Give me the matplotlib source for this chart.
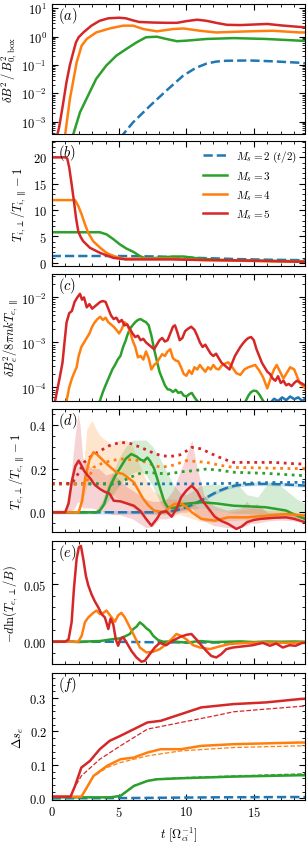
import numpy as np
import matplotlib
matplotlib.use("Agg")
import matplotlib.pyplot as plt
from matplotlib.ticker import AutoMinorLocator, MultipleLocator, LogLocator, NullFormatter

# ---------------- data ----------------
C_BLUE, C_GREEN, C_ORANGE, C_RED = "#1f77b4", "#2ca02c", "#ff7f0e", "#d62728"
labels = [r"$M_s = 2\ (t/2)$", r"$M_s = 3$", r"$M_s = 4$", r"$M_s = 5$"]

# (a) log10(dB^2 / B0^2)
a_t_red = [0.35, 0.55, 0.8, 1.1, 1.35, 1.6, 1.8, 2.0, 2.35, 2.95, 3.55, 4.2, 5.0, 5.5, 6.0, 6.5, 7.5, 8.5, 9.3, 10.0, 10.8, 11.5, 12.3, 13.0, 14.0, 15.0, 16.0, 17.0, 18.0, 18.8]
a_v_red = [-3.6, -3.2, -2.5, -1.6, -1.0, -0.55, -0.2, -0.02, 0.15, 0.39, 0.56, 0.65, 0.67, 0.65, 0.58, 0.52, 0.5, 0.49, 0.49, 0.55, 0.6, 0.56, 0.48, 0.42, 0.41, 0.43, 0.45, 0.4, 0.36, 0.33]
a_t_orange = [0.9, 1.0, 1.35, 1.85, 2.22, 2.6, 3.3, 4.3, 5.3, 6.05, 6.8, 7.8, 9.0, 9.8, 11.0, 12.2, 14.7, 16.4, 18.4, 18.8]
a_v_orange = [-3.6, -3.45, -2.2, -0.91, -0.32, -0.08, 0.15, 0.29, 0.39, 0.39, 0.27, 0.19, 0.27, 0.29, 0.21, 0.15, 0.19, 0.21, 0.15, 0.15]
a_t_green = [1.5, 1.6, 2.1, 2.7, 3.3, 4.05, 4.8, 5.55, 6.3, 7.0, 7.8, 8.5, 9.3, 10.0, 11.5, 13.5, 15.9, 18.4, 18.8]
a_v_green = [-3.6, -3.45, -2.67, -2.08, -1.49, -1.02, -0.67, -0.43, -0.2, -0.02, 0.0, -0.08, -0.16, -0.14, -0.08, -0.05, -0.08, -0.14, -0.15]
a_t_blue = [5.2, 5.3, 6.05, 7.3, 8.5, 9.75, 10.7, 11.5, 12.2, 12.95, 14.7, 16.4, 18.4, 18.8]
a_v_blue = [-3.6, -3.45, -3.02, -2.44, -1.91, -1.38, -1.1, -0.95, -0.88, -0.85, -0.84, -0.87, -0.92, -0.94]

# (b) T_perp/T_par - 1 (ions)
b_t_red = [0, 1.0, 1.15, 1.3, 1.48, 1.65, 1.8, 1.97, 2.15, 2.34, 2.84, 3.58, 4.57, 5.5, 7.0, 9.0, 11.0, 13.0, 15.0, 17.0, 18.8]
b_v_red = [20, 20, 19.8, 18.1, 14.9, 11.7, 8.6, 6.0, 4.9, 4.1, 2.85, 1.9, 0.95, 0.65, 0.65, 0.65, 0.55, 0.5, 0.4, 0.3, 0.2]
b_t_orange = [0, 1.73, 1.97, 2.22, 2.47, 2.71, 3.08, 3.58, 4.07, 4.57, 5.3, 7.0, 9.0, 11.5, 14.0, 16.5, 18.8]
b_v_orange = [11.9, 11.9, 10.8, 9.2, 7.3, 5.7, 4.1, 2.9, 1.9, 1.3, 0.8, 0.8, 0.8, 0.5, 0.4, 0.3, 0.2]
b_t_green = [0, 3.58, 4.07, 4.57, 5.06, 5.55, 6.05, 6.54, 7.0, 7.8, 9.0, 9.8, 11.0, 12.3, 14.5, 16.5, 18.8]
b_v_green = [5.8, 5.8, 5.4, 4.5, 3.5, 2.7, 2.1, 1.3, 0.8, 0.95, 1.2, 1.2, 0.8, 0.57, 0.45, 0.38, 0.32]
b_t_blue = [0, 5.0, 8.0, 10.0, 12.0, 14.0, 16.0, 18.8]
b_v_blue = [1.3, 1.3, 1.2, 1.0, 0.85, 0.7, 0.6, 0.5]

# (c) log10(dB_e^2 / 8 pi n k T_e,par)
c_t_red = [0.25, 0.45, 0.62, 0.8, 0.95, 1.1, 1.3, 1.5, 1.7, 1.9, 2.1, 2.25, 2.4, 2.6, 2.8, 3.0, 3.2, 3.4, 3.6, 3.8, 4.0, 4.2, 4.4, 4.6, 4.8, 5.0, 5.2, 5.4, 5.6, 5.8, 6.0, 6.2, 6.4, 6.6, 6.8, 7.0, 7.2, 7.4, 7.6, 7.8, 8.0, 8.2, 8.4, 8.6, 8.8, 9.0, 9.15, 9.3, 9.5, 9.7, 9.9, 10.1, 10.35, 10.6, 10.8, 11.0, 11.2, 11.4, 11.6, 11.8, 12.0, 12.2, 12.4, 12.6, 12.8, 13.0, 13.2, 13.4, 13.6, 13.8, 14.0, 14.2, 14.4, 14.6, 14.8, 15.0, 15.2, 15.4, 15.6, 15.8, 16.0, 16.2, 16.4, 16.6, 16.8, 17.0, 17.2, 17.4, 17.6, 17.8, 18.0, 18.2, 18.5, 18.8]
c_v_red = [-4.3, -4.0, -3.74, -3.45, -3.0, -2.56, -2.35, -2.3, -2.1, -2.0, -1.92, -2.05, -2.0, -2.22, -2.15, -2.25, -2.2, -2.15, -2.1, -2.08, -2.1, -2.25, -2.4, -2.48, -2.45, -2.55, -2.5, -2.62, -2.6, -2.7, -2.8, -2.88, -2.85, -2.95, -2.92, -3.0, -3.05, -3.1, -3.15, -3.05, -2.95, -2.9, -2.98, -2.95, -2.8, -2.65, -2.62, -2.75, -2.95, -2.9, -2.75, -2.7, -2.65, -2.72, -2.85, -3.0, -3.1, -3.05, -3.15, -3.25, -3.3, -3.25, -3.35, -3.45, -3.5, -3.55, -3.6, -3.45, -3.3, -3.2, -3.1, -3.02, -2.95, -2.9, -2.88, -2.95, -3.15, -3.3, -3.45, -3.55, -3.65, -3.7, -3.8, -3.85, -3.75, -3.9, -3.85, -3.95, -3.92, -3.97, -3.9, -3.85, -3.9, -3.95]
c_t_orange = [1.1, 1.3, 1.5, 1.7, 1.85, 2.0, 2.2, 2.4, 2.6, 2.8, 3.0, 3.2, 3.4, 3.6, 3.8, 4.0, 4.2, 4.4, 4.6, 4.8, 5.0, 5.2, 5.4, 5.6, 5.8, 6.0, 6.2, 6.4, 6.6, 6.8, 7.0, 7.2, 7.4, 7.6, 7.8, 8.0, 8.2, 8.4, 8.6, 8.8, 9.0, 9.2, 9.4, 9.6, 9.8, 10.0, 10.2, 10.4, 10.6, 10.8, 11.0, 11.2, 11.4, 11.6, 11.8, 12.0, 12.2, 12.4, 12.6, 12.8, 13.1, 13.4, 13.7, 14.0, 14.3, 14.6, 15.1, 15.4, 15.7, 16.0, 16.3, 16.5, 16.7, 17.0, 17.2, 17.5, 17.7, 18.0, 18.2, 18.4, 18.6, 18.8]
c_v_orange = [-4.3, -4.0, -3.8, -3.65, -3.55, -3.3, -3.1, -3.0, -2.9, -2.8, -2.65, -2.55, -2.48, -2.43, -2.5, -2.45, -2.55, -2.6, -2.65, -2.72, -2.8, -2.7, -2.55, -2.6, -2.75, -2.95, -3.1, -3.33, -3.3, -3.38, -3.2, -3.35, -3.6, -3.5, -3.45, -3.35, -3.26, -3.3, -3.2, -3.15, -3.35, -3.4, -3.42, -3.55, -3.7, -3.74, -3.62, -3.7, -3.55, -3.6, -3.5, -3.58, -3.65, -3.55, -3.6, -3.5, -3.58, -3.6, -3.52, -3.48, -3.44, -3.55, -3.68, -3.72, -3.6, -3.55, -3.5, -3.62, -3.78, -4.02, -3.75, -3.6, -3.5, -3.68, -3.8, -3.65, -3.55, -3.6, -3.75, -3.9, -3.95, -4.02]
c_t_green = [3.57, 3.8, 4.0, 4.3, 4.5, 4.7, 4.9, 5.1, 5.3, 5.5, 5.6, 5.8, 6.0, 6.2, 6.4, 6.6, 6.8, 7.0, 7.2, 7.4, 7.6, 7.8, 8.0, 8.2, 8.4, 8.6, 8.8, 9.0, 9.2, 9.4, 9.6, 9.8, 10.0, 10.2, 10.4, 10.6, 10.8, 11.5, 13.0, 14.2, 14.4, 14.6, 14.8, 15.0, 15.2, 15.4, 15.6, 15.8, 16.5, 18.8]
c_v_green = [-4.3, -4.1, -3.95, -3.74, -3.6, -3.5, -3.38, -3.3, -3.1, -2.95, -2.85, -2.7, -2.62, -2.55, -2.5, -2.48, -2.52, -2.55, -2.62, -2.85, -3.15, -3.4, -3.65, -3.8, -3.95, -4.04, -4.05, -4.1, -4.05, -4.12, -4.1, -4.18, -4.2, -4.15, -4.12, -4.22, -4.3, -4.5, -4.5, -4.45, -4.3, -4.18, -4.1, -4.07, -4.08, -4.15, -4.25, -4.35, -4.5, -4.5]
c_t_blue = [5.0, 16.0, 16.2, 16.5, 16.8, 17.1, 17.4, 17.7, 18.0, 18.3, 18.6, 18.8]
c_v_blue = [-4.6, -4.6, -4.35, -4.25, -4.3, -4.22, -4.28, -4.2, -4.26, -4.22, -4.3, -4.25]

# (d) T_e,perp/T_e,par - 1 : solid lines
d_t_red = [0, 1.0, 1.25, 1.5, 1.75, 2.0, 2.2, 2.4, 2.65, 2.9, 3.2, 3.6, 3.9, 4.3, 4.6, 5.1, 5.6, 6.1, 6.6, 7.0, 7.4, 7.8, 8.1, 8.5, 8.9, 9.3, 9.6, 10.0, 10.4, 10.8, 11.1, 11.6, 12.1, 12.6, 13.1, 13.7, 14.1, 14.5, 15.0, 15.5, 16.5, 17.4, 18.0, 18.8]
d_v_red = [0.0, 0.0, 0.04, 0.144, 0.21, 0.236, 0.215, 0.19, 0.17, 0.152, 0.125, 0.106, 0.095, 0.085, 0.053, 0.05, 0.04, 0.03, 0.005, -0.03, -0.061, -0.03, 0.0, 0.005, -0.02, 0.02, 0.068, 0.1, 0.122, 0.095, 0.06, 0.02, -0.02, -0.04, -0.053, -0.076, -0.065, -0.045, -0.035, -0.03, -0.025, -0.023, -0.03, -0.045]
d_t_orange = [0, 2.0, 2.25, 2.5, 2.8, 3.1, 3.35, 3.6, 4.1, 4.8, 5.3, 6.1, 6.8, 7.2, 7.6, 8.3, 8.7, 9.1, 9.6, 10.0, 10.4, 11.1, 12.1, 13.1, 14.5, 16.0, 17.4, 18.8]
d_v_orange = [0.0, 0.0, 0.05, 0.16, 0.24, 0.274, 0.265, 0.25, 0.22, 0.183, 0.175, 0.137, 0.061, 0.03, 0.008, 0.0, 0.02, 0.038, 0.04, 0.025, 0.0, -0.03, -0.038, -0.023, -0.023, -0.015, -0.008, -0.015]
d_t_green = [0, 3.3, 3.6, 3.9, 4.3, 4.7, 5.1, 5.5, 5.9, 6.3, 6.6, 6.85, 7.1, 7.3, 7.6, 7.85, 8.1, 8.35, 8.6, 9.1, 9.8, 11.1, 12.3, 13.5, 14.7, 15.9, 17.4, 18.0, 18.8]
d_v_green = [0.0, 0.0, 0.01, 0.038, 0.114, 0.165, 0.205, 0.245, 0.266, 0.255, 0.24, 0.235, 0.25, 0.235, 0.2, 0.15, 0.099, 0.05, 0.023, 0.02, 0.038, 0.046, 0.04, 0.03, 0.027, 0.023, 0.008, -0.01, -0.03]
d_t_blue = [0, 5.0, 8.0, 8.6, 9.3, 10.0, 10.8, 11.5, 12.3, 13.1, 13.7, 14.3, 15.0, 16.0, 17.0, 18.0, 18.8]
d_v_blue = [0.0, 0.0, 0.0, 0.003, 0.01, 0.023, 0.045, 0.068, 0.095, 0.114, 0.123, 0.127, 0.129, 0.13, 0.128, 0.125, 0.122]

# (d) dotted lines
dd_t_red = [0, 1.5, 2.0, 2.4, 3.0, 3.6, 4.3, 5.1, 5.8, 6.6, 7.4, 8.1, 8.8, 9.5, 10.0, 10.4, 11.1, 11.7, 12.3, 13.0, 13.5, 15.0, 16.5, 18.0, 18.8]
dd_v_red = [0.132, 0.132, 0.18, 0.228, 0.26, 0.281, 0.305, 0.32, 0.315, 0.297, 0.275, 0.259, 0.255, 0.262, 0.28, 0.297, 0.29, 0.272, 0.255, 0.238, 0.228, 0.228, 0.228, 0.222, 0.22]
dd_t_orange = [0, 2.5, 2.8, 3.1, 3.9, 5.1, 6.6, 7.4, 8.1, 9.0, 10.0, 11.5, 12.5, 13.5, 15.5, 17.5, 18.8]
dd_v_orange = [0.13, 0.13, 0.165, 0.205, 0.228, 0.244, 0.236, 0.22, 0.205, 0.215, 0.236, 0.228, 0.215, 0.205, 0.203, 0.2, 0.2]
dd_t_green = [0, 4.5, 5.0, 5.6, 6.2, 6.8, 7.6, 8.6, 9.6, 10.5, 11.5, 12.5, 13.5, 15.9, 17.5, 18.8]
dd_v_green = [0.13, 0.13, 0.138, 0.152, 0.17, 0.183, 0.18, 0.175, 0.185, 0.19, 0.198, 0.192, 0.183, 0.178, 0.172, 0.167]
dd_t_blue = [0, 8.0, 11.0, 14.0, 16.5, 18.8]
dd_v_blue = [0.13, 0.13, 0.13, 0.133, 0.136, 0.137]

# (d) shaded spread
sh_t_red = [0, 1.0, 1.4, 1.7, 1.95, 2.1, 2.3, 2.6, 3.0, 3.5, 4.0, 4.5, 5.0, 5.5, 6.0, 6.5, 7.0, 7.5, 8.0, 8.5, 9.0, 9.5, 10.0, 10.4, 10.8, 11.3, 12.0, 13.0, 14.0, 14.5, 14.8, 15.2, 16.0, 17.0, 18.0, 18.8]
sh_hi_red = [0.01, 0.01, 0.15, 0.33, 0.45, 0.40, 0.25, 0.22, 0.20, 0.20, 0.17, 0.18, 0.15, 0.12, 0.10, 0.08, 0.06, 0.05, 0.05, 0.06, 0.10, 0.18, 0.26, 0.33, 0.20, 0.08, 0.03, 0.01, 0.02, 0.05, 0.02, 0.04, 0.0, 0.0, -0.01, -0.02]
sh_lo_red = [-0.005, -0.005, 0.0, 0.02, 0.05, 0.04, 0.02, 0.02, 0.02, 0.01, 0.0, -0.01, -0.01, -0.02, -0.03, -0.05, -0.07, -0.065, -0.03, -0.03, -0.02, 0.0, 0.0, 0.02, -0.02, -0.04, -0.06, -0.07, -0.07, -0.06, -0.05, -0.05, -0.04, -0.035, -0.04, -0.05]
sh_t_orange = [0, 2.0, 2.3, 2.6, 3.0, 3.3, 3.6, 4.0, 4.5, 5.0, 5.5, 6.0, 6.5, 7.0, 7.5, 8.0, 8.5, 9.0, 10.0, 11.0, 12.0, 13.0, 14.0, 15.0, 16.0, 17.0, 18.0, 18.8]
sh_hi_orange = [0.01, 0.01, 0.15, 0.38, 0.42, 0.38, 0.35, 0.33, 0.31, 0.33, 0.33, 0.30, 0.22, 0.15, 0.10, 0.08, 0.06, 0.06, 0.05, 0.02, 0.01, 0.0, 0.01, 0.02, 0.01, 0.01, 0.0, -0.005]
sh_lo_orange = [-0.005, -0.005, 0.05, 0.12, 0.15, 0.14, 0.12, 0.10, 0.08, 0.06, 0.04, 0.02, 0.0, -0.01, -0.01, -0.01, -0.01, 0.0, -0.02, -0.04, -0.045, -0.04, -0.035, -0.035, -0.03, -0.025, -0.025, -0.03]
sh_t_green = [0, 3.3, 3.8, 4.3, 5.0, 5.5, 6.0, 6.5, 7.0, 7.5, 8.0, 8.5, 9.0, 9.5, 10.0, 11.0, 12.0, 13.0, 13.6, 14.5, 15.3, 16.0, 16.4, 17.0, 17.6, 18.2, 18.8]
sh_hi_green = [0.005, 0.005, 0.06, 0.15, 0.25, 0.30, 0.33, 0.33, 0.33, 0.30, 0.25, 0.19, 0.13, 0.09, 0.08, 0.12, 0.13, 0.12, 0.14, 0.08, 0.07, 0.13, 0.145, 0.12, 0.09, 0.06, 0.04]
sh_lo_green = [-0.005, -0.005, 0.02, 0.06, 0.12, 0.16, 0.18, 0.19, 0.17, 0.12, 0.05, 0.0, 0.0, 0.01, 0.01, 0.02, 0.01, 0.0, -0.005, -0.005, -0.01, -0.01, -0.01, -0.015, -0.02, -0.025, -0.035]
sh_half_blue = 0.008

# (e) -d ln(T_e,perp / B)
e_t_red = [0, 1.0, 1.25, 1.48, 1.65, 1.85, 2.02, 2.17, 2.34, 2.54, 2.71, 2.96, 3.2, 3.45, 3.7, 3.95, 4.2, 4.37, 4.57, 4.76, 4.93, 5.1, 5.3, 5.55, 5.92, 6.29, 6.66, 6.91, 7.28, 7.65, 8.02, 8.5, 9.0, 9.5, 10.0, 10.37, 10.74, 11.1, 11.48, 11.85, 12.22, 12.59, 12.96, 13.45, 14.2, 14.93, 15.67, 16.2, 16.66, 17.15, 17.65, 18.1, 18.6, 18.8]
e_v_red = [0.0, 0.0, 0.002, 0.017, 0.046, 0.072, 0.082, 0.083, 0.072, 0.057, 0.049, 0.041, 0.035, 0.03, 0.024, 0.021, 0.011, 0.02, 0.015, 0.002, -0.0035, 0.002, 0.004, -0.0006, -0.008, -0.0136, -0.0173, -0.0165, -0.0107, -0.005, -0.001, -0.003, 0.001, 0.004, 0.006, 0.0067, 0.002, -0.003, -0.008, -0.0124, -0.0136, -0.0107, -0.0064, -0.005, -0.004, -0.003, -0.001, -0.0035, -0.0015, -0.005, -0.003, -0.0035, -0.001, -0.001]
e_t_orange = [0, 1.97, 2.22, 2.47, 2.71, 3.08, 3.33, 3.58, 3.83, 4.07, 4.32, 4.69, 4.94, 5.18, 5.43, 5.8, 6.17, 6.54, 7.03, 7.53, 8.02, 8.52, 8.88, 9.26, 9.63, 10.0, 10.5, 11.0, 11.73, 12.47, 13.2, 14.4, 15.9, 17.4, 18.8]
e_v_orange = [0.0, 0.0, 0.005, 0.017, 0.021, 0.025, 0.027, 0.024, 0.025, 0.027, 0.023, 0.0173, 0.023, 0.025, 0.021, 0.0125, 0.004, -0.005, -0.0093, -0.0087, -0.0064, -0.002, 0.002, 0.0067, 0.005, 0.002, -0.003, -0.005, -0.0064, -0.004, -0.002, -0.001, -0.0006, -0.001, -0.0006]
e_t_green = [0, 1.0, 2.0, 3.0, 3.58, 4.07, 4.57, 5.06, 5.43, 5.8, 6.05, 6.29, 6.54, 6.79, 7.03, 7.28, 7.53, 7.9, 8.27, 9.0, 10.0, 11.0, 12.0, 13.0, 14.0, 15.0, 16.0, 17.0, 18.0, 18.8]
e_v_green = [0.0, 0.0003, -0.0003, 0.0004, 0.0006, 0.0014, 0.0023, 0.0029, 0.0046, 0.0067, 0.011, 0.013, 0.0168, 0.0145, 0.0116, 0.0095, 0.0052, 0.0014, 0.0, 0.0003, -0.0008, 0.0006, -0.0003, 0.0, 0.0003, -0.0003, 0.0002, 0.0, 0.0002, 0.0]
e_t_blue = [0, 4.5, 8.0, 12.0, 16.0, 18.8]
e_v_blue = [0.0, 0.0, -0.0005, -0.0006, -0.0005, -0.0005]

# (f) Delta s_e : solid and thin dashed
f_t_red = [0, 1.4, 1.73, 2.2, 2.84, 3.57, 4.3, 5.1, 6.1, 7.1, 8.1, 9.6, 11.1, 13.5, 15.9, 18.4, 18.8]
f_v_red = [0.005, 0.005, 0.037, 0.092, 0.112, 0.147, 0.172, 0.187, 0.207, 0.227, 0.232, 0.252, 0.272, 0.282, 0.287, 0.297, 0.298]
fd_t_red = [1.4, 1.73, 2.2, 3.57, 5.1, 7.1, 9.6, 12.1, 13.5, 15.9, 18.4, 18.8]
fd_v_red = [0.005, 0.035, 0.067, 0.117, 0.157, 0.207, 0.227, 0.247, 0.259, 0.267, 0.275, 0.276]
f_t_orange = [0, 2.2, 2.6, 3.1, 4.1, 5.1, 6.1, 7.1, 8.1, 9.6, 11.1, 13.5, 18.4, 18.8]
f_v_orange = [0.005, 0.005, 0.032, 0.067, 0.097, 0.117, 0.122, 0.137, 0.147, 0.147, 0.157, 0.162, 0.167, 0.167]
fd_t_orange = [2.2, 2.6, 3.1, 4.1, 5.1, 7.1, 9.6, 13.5, 18.4, 18.8]
fd_v_orange = [0.005, 0.03, 0.065, 0.092, 0.107, 0.127, 0.142, 0.152, 0.157, 0.157]
f_t_green = [0, 4.3, 5.1, 6.1, 7.1, 7.8, 9.6, 13.5, 18.4, 18.8]
f_v_green = [0.003, 0.003, 0.007, 0.037, 0.052, 0.057, 0.06, 0.065, 0.069, 0.069]
fd_t_green = [4.3, 5.1, 6.1, 7.1, 7.8, 9.6, 13.5, 18.4, 18.8]
fd_v_green = [0.003, 0.008, 0.038, 0.053, 0.058, 0.062, 0.067, 0.073, 0.074]
f_t_blue = [0, 6.0, 12.0, 18.8]
f_v_blue = [0.0, 0.001, 0.003, 0.004]

# ---------------- style ----------------
plt.rcParams.update({
    "font.family": ["cmr10", "DejaVu Serif"],
    "mathtext.fontset": "cm",
    "axes.formatter.use_mathtext": True,
    "axes.unicode_minus": False,
    "font.size": 9,
    "xtick.direction": "in", "ytick.direction": "in",
    "xtick.top": True, "ytick.right": True,
    "xtick.minor.visible": True, "ytick.minor.visible": True,
    "xtick.major.size": 4, "ytick.major.size": 4,
    "xtick.minor.size": 2, "ytick.minor.size": 2,
    "axes.linewidth": 0.8,
})

W, H = 307, 845
fig = plt.figure(figsize=(W / 100, H / 100), dpi=100)
left, right = 51.7, 305
rows = [(5, 134.5), (142, 266.5), (275, 402), (410, 533), (542, 665), (674, 801)]
axes = [fig.add_axes([left / W, 1 - b / H, (right - left) / W, (b - t) / H]) for t, b in rows]
ax_a, ax_b, ax_c, ax_d, ax_e, ax_f = axes
LW = 1.8

# (a)
ax_a.plot(a_t_blue, 10 ** np.array(a_v_blue), "--", color=C_BLUE, lw=LW)
ax_a.plot(a_t_green, 10 ** np.array(a_v_green), color=C_GREEN, lw=LW)
ax_a.plot(a_t_orange, 10 ** np.array(a_v_orange), color=C_ORANGE, lw=LW)
ax_a.plot(a_t_red, 10 ** np.array(a_v_red), color=C_RED, lw=LW)
ax_a.set_yscale("log")
ax_a.set_ylim(10 ** -3.42, 10 ** 1.155)
ax_a.set_ylabel(r"$\delta B^2\,/\,B^2_{0,\,\mathrm{box}}$")

# (b)
ax_b.plot(b_t_blue, b_v_blue, "--", color=C_BLUE, lw=LW, label=labels[0])
ax_b.plot(b_t_green, b_v_green, color=C_GREEN, lw=LW, label=labels[1])
ax_b.plot(b_t_orange, b_v_orange, color=C_ORANGE, lw=LW, label=labels[2])
ax_b.plot(b_t_red, b_v_red, color=C_RED, lw=LW, label=labels[3])
ax_b.set_ylim(-0.5, 23.1)
ax_b.yaxis.set_major_locator(MultipleLocator(5))
ax_b.set_ylabel(r"$T_{i,\perp}/T_{i,\parallel}-1$")
ax_b.legend(loc="upper right", frameon=False, fontsize=8, handlelength=2.2,
            labelspacing=0.45, borderaxespad=0.3)

# (c)
ax_c.plot(c_t_blue, 10 ** np.array(c_v_blue), color=C_BLUE, lw=LW)
ax_c.plot(c_t_green, 10 ** np.array(c_v_green), color=C_GREEN, lw=LW)
ax_c.plot(c_t_orange, 10 ** np.array(c_v_orange), color=C_ORANGE, lw=LW)
ax_c.plot(c_t_red, 10 ** np.array(c_v_red), color=C_RED, lw=LW)
ax_c.set_yscale("log")
ax_c.set_ylim(10 ** -4.3, 10 ** -1.48)
ax_c.set_ylabel(r"$\delta B_e^2/8\pi nkT_{e,\parallel}$")

# (d)
dv_blue = np.array(d_v_blue)
ax_d.fill_between(d_t_blue, dv_blue - sh_half_blue, dv_blue + sh_half_blue, color=C_BLUE, alpha=0.2, lw=0)
ax_d.fill_between(sh_t_green, sh_lo_green, sh_hi_green, color=C_GREEN, alpha=0.2, lw=0)
ax_d.fill_between(sh_t_orange, sh_lo_orange, sh_hi_orange, color=C_ORANGE, alpha=0.2, lw=0)
ax_d.fill_between(sh_t_red, sh_lo_red, sh_hi_red, color=C_RED, alpha=0.2, lw=0)
for tt, vv, c in [(dd_t_blue, dd_v_blue, C_BLUE), (dd_t_green, dd_v_green, C_GREEN),
                  (dd_t_orange, dd_v_orange, C_ORANGE), (dd_t_red, dd_v_red, C_RED)]:
    ax_d.plot(tt, vv, ":", color=c, lw=2.0)
ax_d.plot(d_t_blue, d_v_blue, "--", color=C_BLUE, lw=LW)
ax_d.plot(d_t_green, d_v_green, color=C_GREEN, lw=LW)
ax_d.plot(d_t_orange, d_v_orange, color=C_ORANGE, lw=LW)
ax_d.plot(d_t_red, d_v_red, color=C_RED, lw=LW)
ax_d.set_ylim(-0.09, 0.472)
ax_d.yaxis.set_major_locator(MultipleLocator(0.2))
ax_d.set_ylabel(r"$T_{e,\perp}/T_{e,\parallel}-1$")

# (e)
ax_e.plot(e_t_blue, e_v_blue, "--", color=C_BLUE, lw=LW)
ax_e.plot(e_t_green, e_v_green, color=C_GREEN, lw=LW)
ax_e.plot(e_t_orange, e_v_orange, color=C_ORANGE, lw=LW)
ax_e.plot(e_t_red, e_v_red, color=C_RED, lw=LW)
ax_e.set_ylim(-0.0193, 0.0873)
ax_e.yaxis.set_major_locator(MultipleLocator(0.05))
ax_e.set_ylabel(r"$-d\ln(T_{e,\perp}/B)$")

# (f)
ax_f.plot(f_t_blue, f_v_blue, "--", color=C_BLUE, lw=LW)
ax_f.plot(f_t_green, f_v_green, color=C_GREEN, lw=LW)
ax_f.plot(fd_t_green, fd_v_green, "--", color=C_GREEN, lw=0.9)
ax_f.plot(f_t_orange, f_v_orange, color=C_ORANGE, lw=LW)
ax_f.plot(fd_t_orange, fd_v_orange, "--", color=C_ORANGE, lw=0.9)
ax_f.plot(f_t_red, f_v_red, color=C_RED, lw=LW)
ax_f.plot(fd_t_red, fd_v_red, "--", color=C_RED, lw=0.9)
ax_f.set_ylim(-0.005, 0.375)
ax_f.yaxis.set_major_locator(MultipleLocator(0.1))
ax_f.set_ylabel(r"$\Delta s_e$")
ax_f.set_xlabel(r"$t\ [\Omega_{ci}^{-1}]$")

# ylabel anchor (right edge of the rotated label), axes fraction
label_x = [-0.125, -0.095, -0.125, -0.10, -0.125, -0.10]
for ax, tag, lx in zip(axes, "abcdef", label_x):
    ax.set_xlim(0, 18.8)
    ax.xaxis.set_major_locator(MultipleLocator(5))
    ax.xaxis.set_minor_locator(MultipleLocator(1))
    if ax.get_yscale() == "log":
        ax.yaxis.set_minor_locator(LogLocator(base=10, subs=np.arange(2, 10)))
        ax.yaxis.set_minor_formatter(NullFormatter())
    else:
        ax.yaxis.set_minor_locator(AutoMinorLocator())
    if ax is not ax_f:
        ax.tick_params(labelbottom=False)
    ax.yaxis.set_label_coords(lx, 0.5)
    ax.text(0.025, 0.99, rf"$({tag})$", transform=ax.transAxes, ha="left", va="top", fontsize=10.5)

fig.savefig("out.png", dpi=100)
